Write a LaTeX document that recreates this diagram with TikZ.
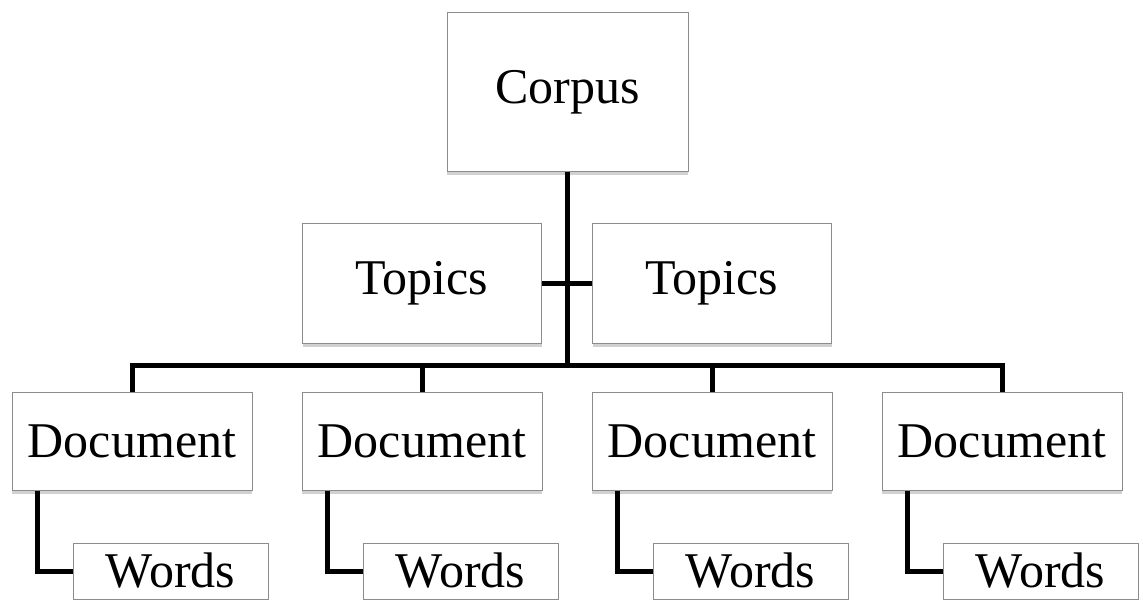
\documentclass[tikz,border=0pt]{standalone}
\usepackage{fontspec}
\setmainfont{Liberation Serif}
\usetikzlibrary{positioning,shadows}

\begin{document}
\begin{tikzpicture}[
  x=0.5pt, y=-0.5pt,
  every node/.style={draw=black!45, line width=0.5pt, fill=white, inner sep=0pt,
    font=\fontsize{25}{30}\selectfont,
    drop shadow={shadow xshift=0pt, shadow yshift=-2pt, opacity=0.3, fill=black!60}},
  top/.style={minimum width=120.5pt, minimum height=79pt},
  mid/.style={minimum width=119.5pt, minimum height=60pt},
  doc/.style={minimum width=120pt, minimum height=49pt},
  wordbox/.style={minimum width=97.5pt, minimum height=28pt},
  link/.style={line width=2.5pt}
]
  \useasboundingbox (0,0) rectangle (1143,599);

  \node[top] (corpus) at (567.5,92) {Corpus};

  \node[mid, below left=25.5pt and 12.75pt of corpus.south] (topics1) {Topics};
  \node[mid, right=25pt of topics1] (topics2) {Topics};

  \node[doc] (doc1) at (132,441) {Document};
  \node[doc, right=24.5pt of doc1] (doc2) {Document};
  \node[doc, right=24.5pt of doc2] (doc3) {Document};
  \node[doc, right=24.5pt of doc3] (doc4) {Document};

  \foreach \i in {1,...,4}
    \node[wordbox, below right=26pt and 30.5pt of doc\i.south west] (words\i) {Words};

  \coordinate (bus) at (0,365);

  % tree lines
  \draw[link] (corpus.south) -- (corpus.south |- bus);
  \draw[link] (topics1.east) -- (topics2.west);
  \draw[link] (doc1.north) -- (doc1.north |- bus) -- (doc4.north |- bus) -- (doc4.north);
  \foreach \i in {2,3}
    \draw[link] (doc\i.north) -- (doc\i.north |- bus);
  \foreach \i in {1,...,4}
    \draw[link] ([xshift=13pt]doc\i.south west) |- (words\i.west);
\end{tikzpicture}
\end{document}
